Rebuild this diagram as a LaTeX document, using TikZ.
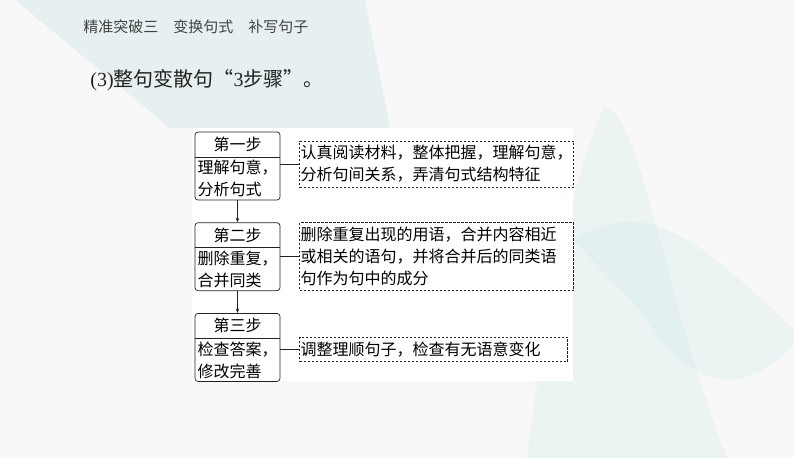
\documentclass[tikz,border=0pt]{standalone}
\usepackage{fontspec}
\setmainfont{Liberation Serif}
\newfontfamily\cjk{Noto Sans CJK SC}
\usetikzlibrary{positioning,arrows.meta,calc}
\definecolor{bgbase}{HTML}{F7F8F7}
\definecolor{bgblue}{HTML}{E2EEF0}
\definecolor{bgteal}{HTML}{BFE3E3}
\definecolor{ink}{HTML}{222222}

\begin{document}
\begin{tikzpicture}[x=1pt, y=-1pt, line width=0.7pt, draw=ink,
	stepbox/.style = {draw, rounded corners=3pt, minimum width=85pt, minimum height=68pt, inner sep=0pt},
	steptitle/.style = {minimum width=85pt, minimum height=24.5pt, inner sep=0pt, font=\cjk\fontsize{16}{22}\selectfont},
	stepbody/.style = {text width=80pt, align=left, inner sep=0pt, font=\cjk\fontsize{16}{22}\selectfont},
	notebox/.style = {draw, dash pattern=on 2.5pt off 1.5pt, text width=#1, align=left,
		inner xsep=1pt, inner ysep=4.5pt, font=\cjk\fontsize{16}{22}\selectfont},
	link/.style = {-{Stealth[length=4.5pt, width=3.5pt]}}]

	% background
	\useasboundingbox (0,0) rectangle (794,458);
	\fill[bgbase] (0,0) rectangle (794,458);
	\fill[bgblue, opacity=0.8] (15,0) -- (365,0) -- (390,128) -- (170,128) -- cycle;
	\fill[bgteal, opacity=0.2] (604,107) .. controls (640,110) and (665,300) .. (727,458)
		-- (527,458) .. controls (540,350) and (570,180) .. (604,107);
	\fill[bgteal, opacity=0.18] (573,240) .. controls (650,190) and (710,250) .. (794,330)
		-- (794,345) .. controls (740,400) and (690,390) .. (640,310) -- cycle;
	\fill[white] (192,128) rectangle (573,381);

	% heading
	\node[anchor=west, text=ink!85, inner sep=0pt, font=\cjk\fontsize{15}{18}\selectfont] (head) at (83,27) {精准突破三　变换句式　补写句子};
	\node[anchor=west, text=ink, inner sep=0pt, font=\fontsize{20}{24}\selectfont] (title) at (90,80) {(3){\cjk 整句变散句“}3{\cjk 步骤”。}};

	% steps
	\node[stepbox] (s1) at (237.5,166) {};
	\node[stepbox, below=22pt of s1] (s2) {};
	\node[stepbox, below=22pt of s2] (s3) {};

	\node[steptitle, anchor=north] (t1) at (s1.north) {第一步};
	\node[steptitle, anchor=north] (t2) at (s2.north) {第二步};
	\node[steptitle, anchor=north] (t3) at (s3.north) {第三步};
	\draw (t1.south west) -- (t1.south east);
	\draw (t2.south west) -- (t2.south east);
	\draw (t3.south west) -- (t3.south east);

	\node[stepbody] (b1) at ($(t1.south)!0.5!(s1.south)$) {理解句意，\\分析句式};
	\node[stepbody] (b2) at ($(t2.south)!0.5!(s2.south)$) {删除重复，\\合并同类};
	\node[stepbody] (b3) at ($(t3.south)!0.5!(s3.south)$) {检查答案，\\修改完善};

	% notes
	\node[notebox=272pt, right=19pt of s1, yshift=2pt] (d1) {认真阅读材料，整体把握，理解句意，\\分析句间关系，弄清句式结构特征};
	\node[notebox=272pt, right=19pt of s2] (d2) {删除重复出现的用语，合并内容相近\\或相关的语句，并将合并后的同类语\\句作为句中的成分};
	\node[notebox=266pt, right=19pt of s3, yshift=-2pt] (d3) {调整理顺句子，检查有无语意变化};

	\draw[link] (s1) -- (s2);
	\draw[link] (s2) -- (s3);
	\draw (d1.west -| s1.east) -- (d1.west);
	\draw (d2.west -| s2.east) -- (d2.west);
	\draw (d3.west -| s3.east) -- (d3.west);
\end{tikzpicture}
\end{document}
